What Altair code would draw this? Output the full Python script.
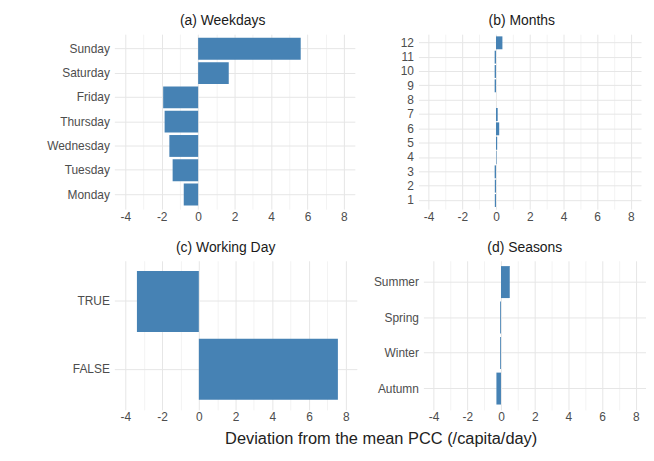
import altair as alt
import pandas as pd

# ---- data ----
weekday_labels = ["Sunday", "Saturday", "Friday", "Thursday", "Wednesday", "Tuesday", "Monday"]
weekday_values = [5.63, 1.68, -1.92, -1.84, -1.58, -1.40, -0.79]

month_labels = ["12", "11", "10", "9", "8", "7", "6", "5", "4", "3", "2", "1"]
month_values = [0.38, -0.08, -0.08, -0.08, 0.0, 0.10, 0.19, 0.07, 0.03, -0.08, -0.07, -0.07]

working_labels = ["TRUE", "FALSE"]
working_values = [-3.37, 7.57]

season_labels = ["Summer", "Spring", "Winter", "Autumn"]
season_values = [0.52, -0.05, -0.05, -0.27]

x_grid_values = [-4, -3, -2, -1, 0, 1, 2, 3, 4, 5, 6, 7, 8]
x_domain = [-4.6, 8.6]

FONT = "Liberation Sans"
BAR = "#4682B4"


def panel(labels, values, title, width, height, extent, title_dx):
    df = pd.DataFrame({"cat": labels, "val": values})
    return (
        alt.Chart(df)
        .mark_bar(color=BAR)
        .encode(
            x=alt.X(
                "val:Q",
                title=None,
                scale=alt.Scale(domain=x_domain, nice=False, zero=False),
                axis=alt.Axis(
                    values=x_grid_values,
                    labelExpr="datum.value % 2 == 0 ? '' + datum.value : ''",
                    gridColor=alt.condition(
                        "datum.value % 2 == 0", alt.value("#e6e6e6"), alt.value("#f3f3f3")
                    ),
                    labelPadding=2,
                ),
            ),
            y=alt.Y(
                "cat:N",
                title=None,
                sort=labels,
                scale=alt.Scale(paddingInner=0.1, paddingOuter=0.15),
                axis=alt.Axis(
                    grid=True,
                    minExtent=extent,
                    maxExtent=extent,
                    labelPadding=5,
                    bandPosition=0.5,
                    gridColor="#e6e6e6",
                ),
            ),
        )
        .properties(
            width=width,
            height=height,
            title=alt.Title(title, dx=title_dx, offset=6, fontSize=14),
        )
    )


a = panel(weekday_labels, weekday_values, "(a) Weekdays", 242, 176, 102, -12)
b = panel(month_labels, month_values, "(b) Months", 224, 176, 30, -8)
c = panel(working_labels, working_values, "(c) Working Day", 244, 150, 98, -10)
d = panel(season_labels, season_values, "(d) Seasons", 224, 150, 50, -10)

row1 = alt.hconcat(a, b, spacing=34)
row2 = alt.hconcat(c, d, spacing=16)

chart = (
    alt.vconcat(row1, row2, spacing=19)
    .properties(
        title=alt.Title(
            "Deviation from the mean PCC (/capita/day)",
            orient="bottom",
            anchor="middle",
            fontSize=16.5,
            offset=8,
            dx=52,
            fontWeight="normal",
            color="#222222",
        ),
        padding={"left": 5, "top": 5, "right": 0, "bottom": 0},
    )
    .configure_view(stroke=None)
    .configure_axis(
        domain=False,
        ticks=False,
        labelFont=FONT,
        labelFontSize=12,
        labelColor="#4d4d4d",
        gridWidth=1,
    )
    .configure_title(font=FONT, fontWeight="normal", color="#1a1a1a")
)

chart.save("out.html", embed_options={"renderer": "svg", "actions": False})
